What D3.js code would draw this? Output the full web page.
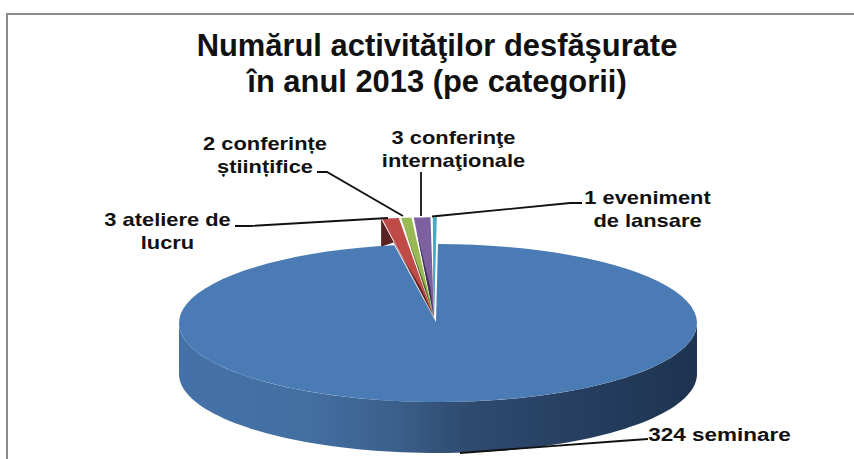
<!DOCTYPE html>
<html><head><meta charset="utf-8"><script src="https://cdn.jsdelivr.net/npm/d3@7"></script>
<style>html,body{margin:0;background:#fff;overflow:hidden}svg{display:block}text{font-family:"Liberation Sans",Arial,sans-serif;font-weight:bold;fill:#111}</style></head><body>
<svg id="c" width="854" height="459"></svg>
<script>
const categories=["seminare","ateliere","stiintifice","internationale","lansare"];
const values=[324,3,2,3,1];
const colors=["#4a7bb5","#be4b48","#98b954","#7d60a0","#46aac5"];
const darks=["#2a4a70","#5a2322","#4f6228","#3f3151","#1d5a6a"];
const labels=[
 {lines:["324 seminare"],x:719.5,y:441,size:18},
 {lines:["3 ateliere de","lucru"],x:167.5,y:226,size:17.5},
 {lines:["2 conferințe","științifice"],x:265,y:150,size:17.5},
 {lines:["3 conferinţe","internaţionale"],x:453.5,y:144,size:17.5},
 {lines:["1 eveniment","de lansare"],x:647.5,y:204,size:17.5}];
const labelStretch=1.25;
const leaders=[
 [[648,439],[620,441],[460,453]],
 [[235,226],[250,226],[388,218]],
 [[317,172],[327,172],[403,216]],
 [[421,172],[421,216]],
 [[582,203],[570,203],[432,216.5]]];
const titleLines=["Numărul activităţilor desfăşurate","în anul 2013 (pe categorii)"];

const svg=d3.select("#c");
const cx=438,cy=323,rx=259,ry=79,depth=51,lift=1.3;
const hub=[438,320],tip=[434,317],notch=[436,322];
const pie=d3.pie().sort(null).value(d=>d).startAngle(0).endAngle(2*Math.PI);
const arcs=pie(values);
const pt=(a,k=1,c=[cx,cy])=>[c[0]+rx*k*Math.sin(a),c[1]-ry*k*Math.cos(a)];
const line=d3.line();
const sweep=(a0,a1,k,c,n=90)=>d3.range(n+1).map(i=>pt(a0+(a1-a0)*i/n,k,c));

const defs=svg.append("defs");
const g=defs.append("linearGradient").attr("id","wall");
[[0,"#4472a8"],[.25,"#436fa1"],[.42,"#3b5f8b"],[.55,"#2f4b70"],[1,"#1d3350"]]
 .forEach(([o,c])=>g.append("stop").attr("offset",o).attr("stop-color",c));

svg.append("rect").attr("x",7).attr("y",14).attr("width",900).attr("height",500)
 .attr("fill","#fff").attr("stroke","#8c8c8c").attr("stroke-width",2);

const front=sweep(Math.PI/2,3*Math.PI/2,1);
const wall=front.concat(front.slice().reverse().map(p=>[p[0],p[1]+depth]));
svg.append("path").attr("d",line(wall)+"Z").attr("fill","url(#wall)");

const smallArcs=arcs.slice(1);
const first=smallArcs[0];
const oL=pt(first.startAngle,lift,hub);
svg.append("path").attr("d",line([oL,[oL[0],oL[1]+28],pt(first.startAngle,1,hub),tip])+"Z").attr("fill",darks[1]);

const big=arcs[0];
svg.append("path").attr("d",line([notch].concat(sweep(big.startAngle,big.endAngle,1)))+"Z").attr("fill",colors[0]);

smallArcs.forEach((d,i)=>{
  const gap=.0035;
  const a0=d.startAngle+gap,a1=d.endAngle-gap;
  const outer=sweep(a0,a1,lift,hub,8);
  svg.append("path").attr("d",line([tip].concat(outer))+"Z").attr("fill",colors[i+1]);
  const a=outer[0],b=outer[outer.length-1];
  const mix=(p,q,t)=>[p[0]+(q[0]-p[0])*t,p[1]+(q[1]-p[1])*t];
  svg.append("path").attr("d",line([tip,mix(tip,a,i==0?.6:.88),mix(tip,mix(a,b,.45),.3)])+"Z").attr("fill",darks[i+1]);
});

leaders.forEach(l=>svg.append("path").attr("d",line(l)).attr("fill","none").attr("stroke","#111").attr("stroke-width",1.8));

labels.forEach(l=>{
  const t=svg.append("text").attr("text-anchor","middle").attr("font-size",l.size)
    .attr("transform",`translate(${l.x},${l.y}) scale(${labelStretch},1)`);
  l.lines.forEach((s,i)=>t.append("tspan").attr("x",0).attr("y",i*23).text(s));
});
const tt=svg.append("text").attr("text-anchor","middle").attr("font-size",30.9);
titleLines.forEach((s,i)=>tt.append("tspan").attr("x",437).attr("y",56+i*36).text(s));
</script></body></html>
